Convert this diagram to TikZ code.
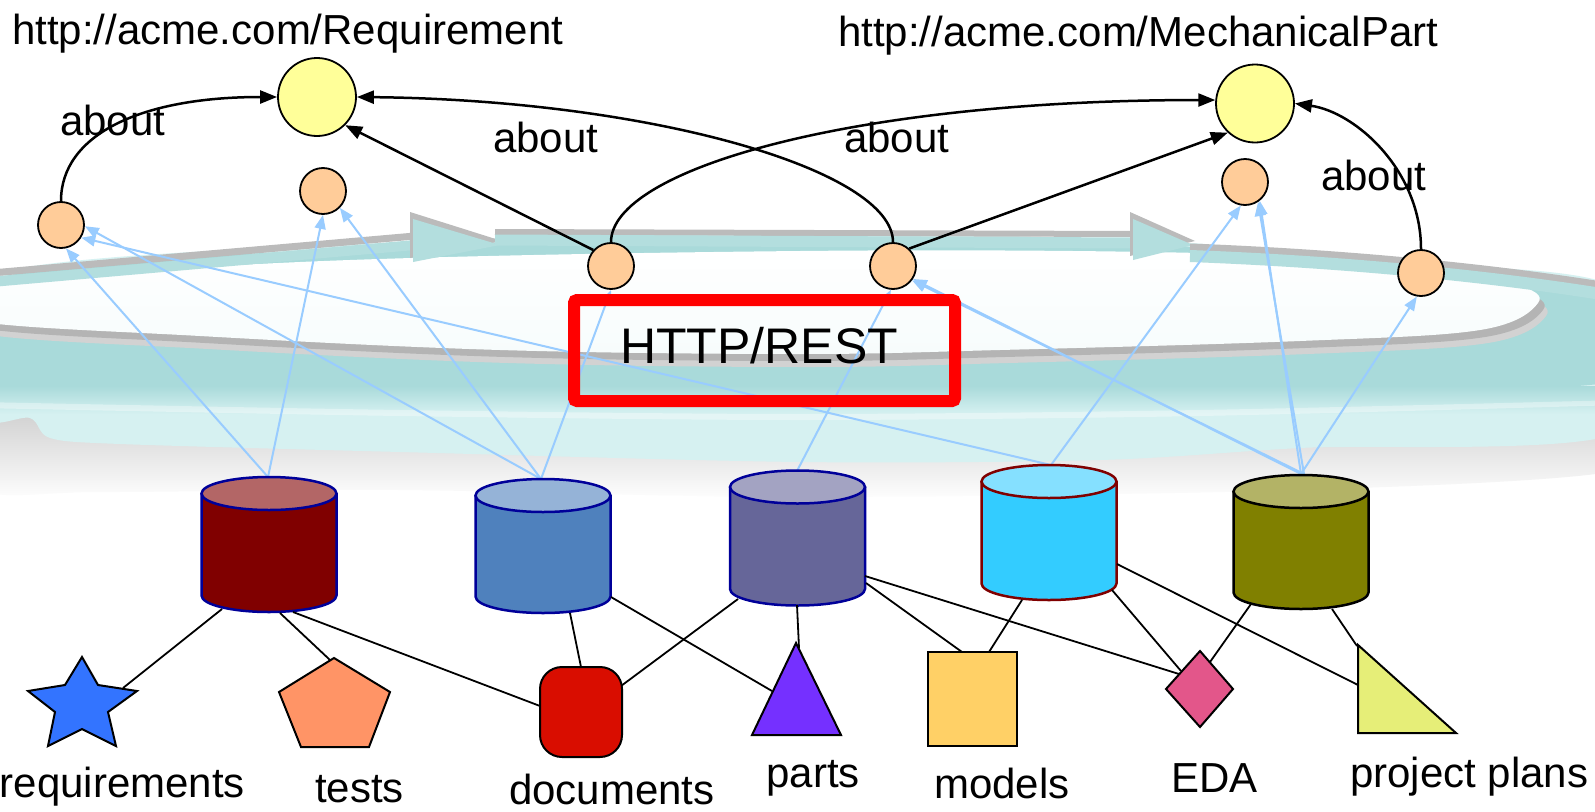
\documentclass[tikz,border=0pt]{standalone}
\usepackage{fontspec}
\setmainfont{Liberation Sans}
\usetikzlibrary{arrows.meta}
\definecolor{yellowfill}{HTML}{FFFF99}
\definecolor{orangefill}{HTML}{FFCC99}
\definecolor{arrowblue}{HTML}{99CCFF}
\definecolor{navy}{HTML}{000099}
\definecolor{cAbody}{HTML}{800000}
\definecolor{cAtop}{HTML}{B36666}
\definecolor{cBbody}{HTML}{4F81BD}
\definecolor{cBtop}{HTML}{95B3D7}
\definecolor{cCbody}{HTML}{666699}
\definecolor{cCtop}{HTML}{A3A3C2}
\definecolor{cDbody}{HTML}{33CCFF}
\definecolor{cDtop}{HTML}{85E0FF}
\definecolor{cEbody}{HTML}{808000}
\definecolor{cEtop}{HTML}{B3B366}
\definecolor{starblue}{HTML}{3374FF}
\definecolor{pentorange}{HTML}{FF9466}
\definecolor{docred}{HTML}{D90D00}
\definecolor{partsviolet}{HTML}{7530FF}
\definecolor{modelsyellow}{HTML}{FFD066}
\definecolor{edapink}{HTML}{E3568A}
\definecolor{planslime}{HTML}{E6EE78}
\definecolor{shadowgray}{HTML}{C4C4C4}
\definecolor{cloudlight}{HTML}{D6F1F1}
\definecolor{tealc}{HTML}{A9DADA}
\definecolor{bandteal}{HTML}{B3DEDE}
\definecolor{bandgray}{HTML}{BBBBBB}
\definecolor{rimgray}{HTML}{B4B4B4}
\newcommand\mycyl[6]{%
  \filldraw[fill=#4, draw=#6, line width=2.5pt, line join=round]
    ({#1-67.5},#2) -- ({#1-67.5},#3)
    .. controls ({#1-67.5},{#3+9.11}) and ({#1-37.28},{#3+16.5}) .. (#1,{#3+16.5})
    .. controls ({#1+37.28},{#3+16.5}) and ({#1+67.5},{#3+9.11}) .. ({#1+67.5},#3)
    -- ({#1+67.5},#2) -- cycle;
  \filldraw[fill=#5, draw=#6, line width=2.5pt] (#1,#2) ellipse [x radius=67.5pt, y radius=16.5pt];
}
\def\cloudbody{plot[smooth cycle, tension=0.5] coordinates {(-20,278) (400,242) (800,234) (1140,240) (1400,262) (1620,290) (1620,432) (1300,448) (1100,460) (800,462) (400,452) (120,444) (50,438) (30,418) (-20,414)}}
\def\whiteell{plot[smooth cycle, tension=0.6] coordinates {(-30,288) (300,262) (800,251) (1200,253) (1420,265) (1515,284) (1538,303) (1480,330) (1300,341) (1000,350) (800,354) (500,350) (200,336) (-30,320)}}
\begin{document}
\begin{tikzpicture}[x=1pt,y=-1pt,
  karrow/.style={line width=2.5pt, draw=black, -{Triangle[length=17pt,width=13pt]}},
  barrow/.style={line width=2pt, draw=arrowblue, -{Triangle[length=14pt,width=11pt]}},
  conn/.style={line width=1.8pt, draw=black},
  ycirc/.style={circle, draw=black, line width=1.8pt, fill=yellowfill, minimum size=78pt, inner sep=0pt},
  ocirc/.style={circle, draw=black, line width=1.8pt, fill=orangefill, minimum size=46pt, inner sep=0pt},
  txt/.style={inner sep=0pt, font=\fontsize{42}{50}\selectfont},
  shp/.style={draw=black, line width=2pt, line join=miter},
]
\useasboundingbox (0,0) rectangle (1595,811);
\fill[white] (0,0) rectangle (1595,811);

% ---------- cloud background ----------
\begin{scope}
\clip (0,0) rectangle (1595,811);
\shade[top color=shadowgray, middle color=shadowgray, bottom color=white]
  plot[smooth cycle, tension=0.5] coordinates {(-20,395) (400,425) (800,440) (1200,435) (1620,415) (1620,470) (1300,490) (800,497) (400,490) (100,492) (-20,488)};
\fill[cloudlight] \cloudbody;
\begin{scope}
  \clip \cloudbody;
  \fill[tealc] plot[smooth cycle, tension=0.5] coordinates {(-20,282) (400,246) (800,240) (1140,244) (1400,266) (1620,292) (1620,380) (1300,388) (800,394) (400,390) (-20,388)};
  \shade[top color=tealc, bottom color=cloudlight] (-20,386) rectangle (1620,414);
  \fill[white, opacity=0.35] plot[smooth, tension=0.5] coordinates {(-20,402) (400,410) (800,414) (1200,410) (1620,400)} -- (1620,405) -- plot[smooth, tension=0.5] coordinates {(1620,405) (1200,416) (800,420) (400,416) (-20,408)} -- cycle;
\end{scope}
\fill[rimgray!60, shift={(8,13)}] \whiteell;
\fill[rimgray, shift={(5,7)}] \whiteell;
\shade[top color=white, bottom color=white!80!cloudlight] \whiteell;
% ring band with arrows
\draw[line width=7pt, bandgray] (-20,274) -- (415,236);
\draw[line width=10pt, bandteal] (-20,283) -- (415,245);
\fill[bandgray] (410,212) -- (502,241) -- (410,258) -- cycle;
\fill[bandteal] (413,219) -- (500,245) -- (413,262) -- cycle;
\draw[line width=6pt, bandgray] (495,232) -- (1135,234);
\draw[line width=11pt, bandteal] (495,240) -- (1135,243);
\fill[bandgray] (1130,212) -- (1195,241) -- (1130,256) -- cycle;
\fill[bandteal] (1133,219) -- (1193,245) -- (1133,260) -- cycle;
\draw[line width=7pt, bandgray] (1190,247) .. controls (1350,253) and (1500,268) .. (1620,288);
\draw[line width=12pt, bandteal] (1190,256) .. controls (1350,262) and (1500,277) .. (1620,297);
\end{scope}

% ---------- circles ----------
\node[ycirc] (y1) at (317,97) {};
\node[ycirc] (y2) at (1255,103.5) {};
\node[ocirc] (o1) at (61,225) {};
\node[ocirc] (o2) at (323,191) {};
\node[ocirc] (o3) at (611,266) {};
\node[ocirc] (o4) at (893,266) {};
\node[ocirc] (o5) at (1245,182) {};
\node[ocirc] (o6) at (1421,273) {};

% ---------- cylinder top points ----------
\coordinate (c1t) at (268,477);
\coordinate (c2t) at (541,479);
\coordinate (c3t) at (797,471);
\coordinate (c4t) at (1051,465);
\coordinate (c5t) at (1301,474);
\coordinate (c5u) at (1304,474);

% ---------- blue arrows ----------
\draw[barrow] (c1t) -- (o1.-78);
\draw[barrow] (c1t) -- (o2.south);
\draw[barrow] (c2t) -- (o1.-3);
\draw[barrow] (c2t) -- (o2.-45);
\draw[barrow] (c2t) -- (o3.south);
\draw[barrow] (c3t) -- (o4.-95);
\draw[barrow] (c4t) -- (o1.-32);
\draw[barrow] (c4t) -- (o5.-100);
\draw[barrow] (c5t) -- (o4.-33);
\draw[barrow] (c5u) -- (o4.-37);
\draw[barrow] (c5t) -- (o5.-52);
\draw[barrow] (c5u) -- (o5.-57);
\draw[barrow] (c5t) -- (o6.-100);

% ---------- HTTP/REST box ----------
\node[draw=red, line width=12pt, rounded corners=3pt, minimum width=381pt, minimum height=101pt, inner sep=0pt] (rest) at (764.5,350.5) {};
\node[inner sep=0pt, anchor=base west, font=\fontsize{50}{60}\selectfont] (resttxt) at (620,363) {HTTP/REST};

% ---------- black "about" arrows ----------
\draw[karrow] (o1.north) .. controls (61,135) and (140,97) .. (y1.west);
\draw[karrow] (o3.138) -- (y1.-45);
\draw[karrow] (o3.north) .. controls (611,170) and (850,100) .. (y2.175);
\draw[karrow] (o4.north) .. controls (893,170) and (650,100) .. (y1.east);
\draw[karrow] (o4.47) -- (y2.-133);
\draw[karrow] (o6.north) .. controls (1421,170) and (1355,112) .. (y2.east);

% ---------- titles and about labels ----------
\node[txt, anchor=base west] (t1) at (12,44) {http://acme.com/Requirement};
\node[txt, anchor=base west] (t2) at (838,46) {http://acme.com/MechanicalPart};
\node[txt, anchor=base west] (ab1) at (60,135) {about};
\node[txt, anchor=base west] (ab2) at (493,152) {about};
\node[txt, anchor=base west] (ab3) at (844,152) {about};
\node[txt, anchor=base west] (ab4) at (1321,190) {about};

% ---------- cylinders ----------
\mycyl{269}{493.5}{595.5}{cAbody}{cAtop}{navy}
\mycyl{543}{495.5}{596.5}{cBbody}{cBtop}{navy}
\mycyl{797.5}{487}{589}{cCbody}{cCtop}{navy}
\mycyl{1049}{481.5}{583.5}{cDbody}{cDtop}{cAbody}
\mycyl{1301}{491.5}{592.5}{cEbody}{cEtop}{black}

% ---------- connector end points ----------
\coordinate (s1) at (222,609);  \coordinate (e1) at (123,688);
\coordinate (s2) at (280,613);  \coordinate (e2) at (330,660);
\coordinate (s3) at (293,612);  \coordinate (e3) at (540,706);
\coordinate (s4) at (570,613);  \coordinate (e4) at (581,667);
\coordinate (s5) at (611,597);  \coordinate (e5) at (772,691);
\coordinate (s6) at (738,599);  \coordinate (e6) at (621,686);
\coordinate (s7) at (797,605);  \coordinate (e7) at (799,648);
\coordinate (s8) at (865,576);  \coordinate (e8) at (1179,674);
\coordinate (s9) at (866,583);  \coordinate (e9) at (962,652);
\coordinate (s10) at (1022,600); \coordinate (e10) at (989,652);
\coordinate (s11) at (1112,590); \coordinate (e11) at (1181,671);
\coordinate (s12) at (1117,564); \coordinate (e12) at (1358,685);
\coordinate (s13) at (1251,604); \coordinate (e13) at (1210,662);
\coordinate (s14) at (1332,609); \coordinate (e14) at (1357,646);
\foreach \i in {1,...,14} { \draw[conn] (s\i) -- (e\i); }

% ---------- bottom shapes ----------
\filldraw[shp, fill=starblue] (82,657) -- (98,685) -- (137,691) -- (108,712) -- (116,746) -- (82,729) -- (48,746) -- (55,712) -- (28,691) -- (65,685) -- cycle;
\filldraw[shp, fill=pentorange] (334,658) -- (390,692) -- (369,747) -- (301,747) -- (279,692) -- cycle;
\filldraw[shp, fill=docred, rounded corners=22pt] (540,667) rectangle (622,757);
\filldraw[shp, fill=partsviolet] (796,643) -- (841,735) -- (752,735) -- cycle;
\filldraw[shp, fill=modelsyellow] (928,652) rectangle (1017,746);
\filldraw[shp, fill=edapink] (1200,651) -- (1233,689) -- (1200,727) -- (1166,689) -- cycle;
\filldraw[shp, fill=planslime] (1358,645) -- (1456,733) -- (1358,733) -- cycle;

% ---------- bottom labels ----------
\node[txt, anchor=base east] (l1) at (245,797) {requirements};
\node[txt, anchor=base west] (l2) at (315,802) {tests};
\node[txt, anchor=base west] (l3) at (509,804) {documents};
\node[txt, anchor=base east] (l4) at (860,787) {parts};
\node[txt, anchor=base west] (l5) at (934,798) {models};
\node[txt, anchor=base west] (l6) at (1171,792) {EDA};
\node[txt, anchor=base west] (l7) at (1350,787) {project plans};
\end{tikzpicture}
\end{document}
